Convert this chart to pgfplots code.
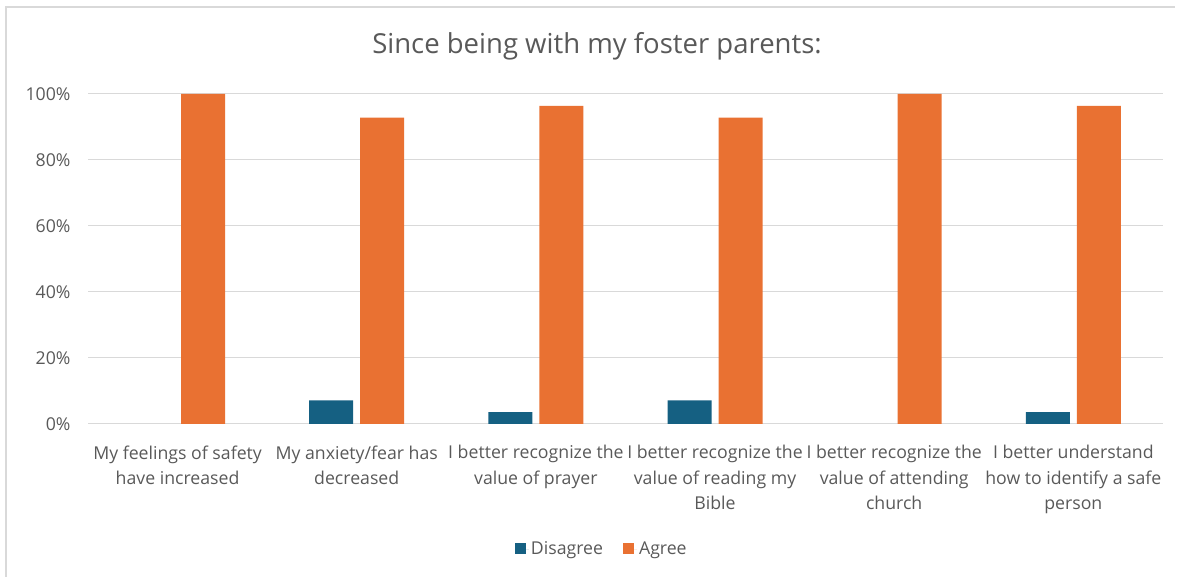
\documentclass[border=0pt]{standalone}
\usepackage{pgfplots}
\pgfplotsset{compat=1.18}
\usepackage{fontspec}
\setmainfont{Open Sans}
\definecolor{dis}{HTML}{156082}
\definecolor{agr}{HTML}{E97132}
\definecolor{txt}{HTML}{595959}
\definecolor{grd}{HTML}{D9D9D9}
\begin{document}
\begin{tikzpicture}[x=1pt,y=1pt]
\path[use as bounding box] (0,0) rectangle (1178,577);
\draw[grd, line width=1.2pt] (6,0) -- (6,570) -- (1175,570);
\node[text=txt, font=\fontsize{27.5}{32}\selectfont] at (597,531) {Since being with my foster parents:};
\begin{axis}[
  at={(88pt,153pt)}, anchor=south west,
  scale only axis, width=1075pt, height=330pt,
  ybar=7pt, bar width=44pt,
  xmin=-0.5, xmax=5.5, ymin=0, ymax=100,
  axis line style={draw=none},
  ymajorgrids, grid style={grd, line width=1pt},
  major tick length=0pt,
  ytick={0,20,40,60,80,100},
  yticklabel={\pgfmathprintnumber{\tick}\%},
  /pgf/number format/assume math mode=true,
  yticklabel style={text=txt, font=\fontsize{17.7}{20}\selectfont, xshift=-14pt},
  xtick={0,1,2,3,4,5},
  xticklabels={{My feelings of safety\\have increased},
               {My anxiety/fear has\\decreased},
               {I better recognize the\\value of prayer},
               {I better recognize the\\value of reading my\\Bible},
               {I better recognize the\\value of attending\\church},
               {I better understand\\how to identify a safe\\person}},
  xticklabel style={text=txt, align=center, font=\fontsize{17.7}{25.5}\selectfont, yshift=-18pt},
  legend columns=2,
  legend style={draw=none, fill=none, at={(0.478,-0.379)}, anchor=center,
    text=txt, font=\fontsize{17.7}{20}\selectfont,
    /tikz/every even column/.append style={column sep=18pt}},
  legend image code/.code={\fill[#1] (0pt,-5pt) rectangle (11pt,6pt); \path (0pt,0pt) -- (14pt,0pt);},
]
\addplot[fill=dis, draw=none] coordinates {(1,7.14) (2,3.57) (3,7.14) (5,3.57)};
\addlegendentry{Disagree}
\addplot[fill=agr, draw=none] coordinates {(0,100) (1,92.86) (2,96.43) (3,92.86) (4,100) (5,96.43)};
\addlegendentry{Agree}
\end{axis}
\end{tikzpicture}
\end{document}
